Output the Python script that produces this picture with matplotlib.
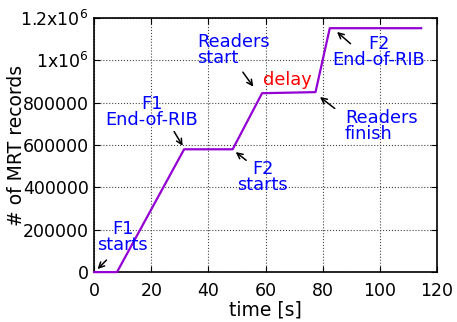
import matplotlib
matplotlib.use("Agg")
import matplotlib.pyplot as plt

# data
time_s = [0, 8, 31.5, 48.5, 58.8, 77.5, 82.5, 114.5]
records = [0, 0, 580000, 580000, 845000, 850000, 1152000, 1152000]

xticks = [0, 20, 40, 60, 80, 100, 120]
yticks = [0, 200000, 400000, 600000, 800000, 1000000, 1200000]
ytick_labels = ["0", "200000", "400000", "600000", "800000",
                r"1x10$^6$", r"1.2x10$^6$"]

plt.rcParams['font.family'] = ['DejaVu Sans']
plt.rcParams['mathtext.default'] = 'regular'

fig = plt.figure(figsize=(4.57, 3.22), dpi=100)
ax = fig.add_axes([0.206, 0.155, 0.75, 0.789])

ax.plot(time_s, records, color='#9400d3', lw=1.6, zorder=3, clip_on=False)

ax.set_xlim(0, 120)
ax.set_ylim(0, 1200000)
ax.set_xticks(xticks)
ax.set_yticks(yticks)
ax.set_yticklabels(ytick_labels)
ax.tick_params(direction='in', top=True, right=True, labelsize=12.5, length=4)
ax.tick_params(axis='x', pad=7)
ax.tick_params(axis='y', pad=4)
ax.grid(True, linestyle=':', color='#444444', lw=0.8)
for s in ax.spines.values():
    s.set_linewidth(1.2)

ax.set_xlabel("time [s]", fontsize=13.5)
ax.set_ylabel("# of MRT records", fontsize=13.5)
ax.xaxis.set_label_coords(0.5, -0.11)
ax.yaxis.set_label_coords(-0.2, 0.5)

arrow = dict(arrowstyle='->', color='black', lw=1.1)
fs = 12.8
blue = '#0000ff'

ax.text(10, 165000, "F1\nstarts", ha='center', va='center',
        color=blue, fontsize=fs, linespacing=0.9)
ax.annotate("", xy=(0.5, 5000), xytext=(5, 66000), arrowprops=arrow)

ax.text(20.3, 756000, "F1\nEnd-of-RIB", ha='center', va='center',
        color=blue, fontsize=fs, linespacing=0.9)
ax.annotate("", xy=(31.5, 585000), xytext=(27.5, 675000), arrowprops=arrow)

ax.text(59, 449000, "F2\nstarts", ha='center', va='center',
        color=blue, fontsize=fs, linespacing=0.9)
ax.annotate("", xy=(48.8, 575000), xytext=(54, 520000), arrowprops=arrow)

ax.text(36, 1049000, "Readers\nstart", ha='left', va='center',
        color=blue, fontsize=fs, linespacing=0.9)
ax.annotate("", xy=(56.3, 865000), xytext=(51.5, 955000), arrowprops=arrow)

ax.text(67.5, 907000, "delay", color='red', fontsize=fs, ha='center', va='center')

ax.text(99.7, 1039000, "F2\nEnd-of-RIB", ha='center', va='center',
        color=blue, fontsize=fs, linespacing=0.9)
ax.annotate("", xy=(84.3, 1143000), xytext=(90.5, 1070000), arrowprops=arrow)

ax.text(87.8, 690000, "Readers\nfinish", ha='left', va='center',
        color=blue, fontsize=fs, linespacing=0.9)
ax.annotate("", xy=(78.3, 835000), xytext=(85, 765000), arrowprops=arrow)

fig.savefig("out.png", dpi=100)
